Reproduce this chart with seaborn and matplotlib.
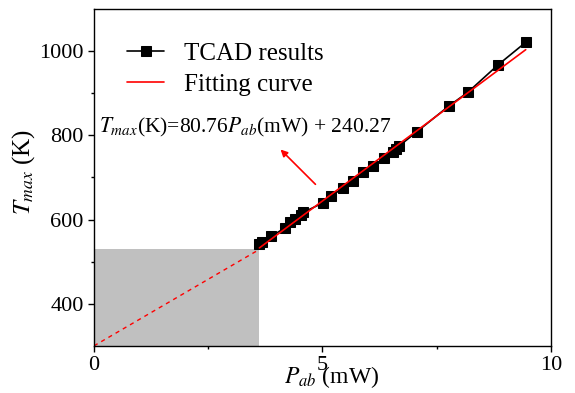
import numpy as np
import pandas as pd
import seaborn as sns
import matplotlib.pyplot as plt
from matplotlib.patches import Rectangle

# TCAD results
p_ab = [3.62, 3.68, 3.88, 4.19, 4.30, 4.41, 4.52, 4.58, 5.02, 5.18, 5.44, 5.66,
        5.88, 6.10, 6.34, 6.54, 6.60, 6.67, 7.06, 7.76, 8.18, 8.84, 9.45]
t_max = [543, 547, 560, 581, 593, 602, 610, 617, 640, 655, 674, 692,
         712, 726, 745, 760, 767, 774, 808, 869, 902, 967, 1021]

# linear fit T = a*P + b
slope, intercept = 80.76, 240.27
fit_x = [3.62, 9.45]
shade_x = [0, 3.62]
shade_y = [300, 529]

sns.set_style("ticks")
plt.rcParams['font.family'] = ['Liberation Serif', 'DejaVu Serif']
plt.rcParams['mathtext.fontset'] = 'stix'
plt.rcParams['text.color'] = 'black'
plt.rcParams['axes.labelcolor'] = 'black'
plt.rcParams['xtick.color'] = 'black'
plt.rcParams['ytick.color'] = 'black'

df = pd.DataFrame({'P': p_ab, 'T': t_max})
fit = pd.DataFrame({'P': fit_x, 'T': [slope * x + intercept for x in fit_x]})

fig, ax = plt.subplots(figsize=(5.75, 3.93), dpi=100)
fig.subplots_adjust(left=0.1635, right=0.958, bottom=0.12, top=0.977)

ax.add_patch(Rectangle((shade_x[0], shade_y[0]), shade_x[1] - shade_x[0],
                       shade_y[1] - shade_y[0], color='#c0c0c0', lw=0, zorder=0))
ax.plot(shade_x, shade_y, ls=(0, (3, 3)), color='red', lw=1)

sns.lineplot(data=df, x='P', y='T', ax=ax, color='black', marker='s',
             markersize=6.5, markeredgecolor='black', lw=1.2, label='TCAD results')
sns.lineplot(data=fit, x='P', y='T', ax=ax, color='red', lw=1.2,
             label='Fitting curve')

ax.annotate('', xy=(4.04, 771), xytext=(4.89, 679),
            arrowprops=dict(arrowstyle='-|>', color='red', lw=1.2,
                            mutation_scale=10))
ax.text(0.12, 818, r'$T_{max}$(K)=80.76$P_{ab}$(mW) + 240.27', fontsize=15.5,
        va='center')

ax.set_xlim(0, 10)
ax.set_ylim(300, 1100)
ax.set_xticks([0, 5, 10])
ax.set_xticks([2.5, 7.5], minor=True)
ax.set_yticks([400, 600, 800, 1000])
ax.set_yticks([500, 700, 900], minor=True)
ax.tick_params(which='major', labelsize=16, length=4, width=1, direction='out')
ax.tick_params(which='minor', length=2.5, width=1, direction='out')
for s in ax.spines.values():
    s.set_visible(True)
    s.set_linewidth(1)
    s.set_color('black')

ax.set_xlabel(r'$P_{ab}$ (mW)', fontsize=17)
ax.xaxis.set_label_coords(0.52, -0.055, transform=ax.transAxes)
ax.xaxis.label.set_va('top')
ax.set_ylabel(r'$T_{max}$ (K)', fontsize=18)
ax.yaxis.set_label_coords(-0.125, 0.516)

leg = ax.legend(loc='upper left', bbox_to_anchor=(0.024, 0.968), frameon=False,
                fontsize=18, handlelength=1.45, handletextpad=0.8,
                labelspacing=0.35)

fig.savefig('out.png', dpi=100)
